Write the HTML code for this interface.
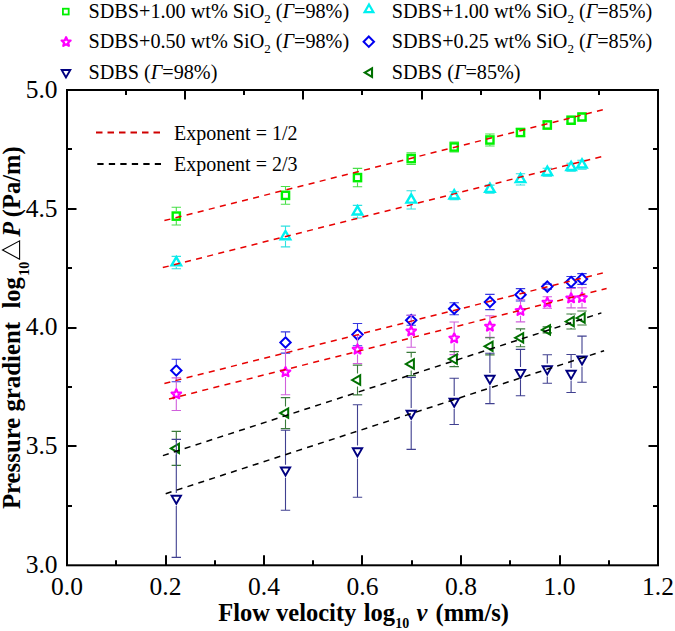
<!DOCTYPE html>
<html><head><meta charset="utf-8"><style>html,body{margin:0;padding:0;background:#fff;}svg{display:block;}</style></head>
<body>
<svg width="675" height="631" viewBox="0 0 675 631">
<rect width="100%" height="100%" fill="#fff"/>
<path d="M176.30 207.20V211.10M176.30 221.10V225.00M171.60 207.20H181.00M171.60 225.00H181.00M285.50 186.45V190.35M285.50 200.35V204.25M280.80 186.45H290.20M280.80 204.25H290.20M357.50 168.40V172.60M357.50 182.60V186.80M352.80 168.40H362.20M352.80 186.80H362.20M411.20 152.85V153.65M411.20 163.65V164.45M406.50 152.85H415.90M406.50 164.45H415.90M449.50 142.00H458.90M449.50 152.00H458.90M489.90 134.00V135.00M489.90 145.00V146.00M485.20 134.00H494.60M485.20 146.00H494.60M515.80 128.50H525.20M515.80 136.50H525.20M542.60 121.00H552.00M542.60 129.00H552.00M566.40 117.20H575.80M566.40 123.20H575.80M577.30 114.00H586.70M577.30 120.00H586.70" stroke="#48e048" stroke-width="1.1" fill="none"/>
<rect x="172.70" y="212.50" width="7.20" height="7.20" fill="none" stroke="#00f000" stroke-width="2.4"/>
<rect x="281.90" y="191.75" width="7.20" height="7.20" fill="none" stroke="#00f000" stroke-width="2.4"/>
<rect x="353.90" y="174.00" width="7.20" height="7.20" fill="none" stroke="#00f000" stroke-width="2.4"/>
<rect x="407.60" y="155.05" width="7.20" height="7.20" fill="none" stroke="#00f000" stroke-width="2.4"/>
<rect x="450.60" y="143.40" width="7.20" height="7.20" fill="none" stroke="#00f000" stroke-width="2.4"/>
<rect x="486.30" y="136.40" width="7.20" height="7.20" fill="none" stroke="#00f000" stroke-width="2.4"/>
<rect x="516.90" y="128.90" width="7.20" height="7.20" fill="none" stroke="#00f000" stroke-width="2.4"/>
<rect x="543.70" y="121.40" width="7.20" height="7.20" fill="none" stroke="#00f000" stroke-width="2.4"/>
<rect x="567.50" y="116.60" width="7.20" height="7.20" fill="none" stroke="#00f000" stroke-width="2.4"/>
<rect x="578.40" y="113.40" width="7.20" height="7.20" fill="none" stroke="#00f000" stroke-width="2.4"/>
<path d="M176.30 267.10V268.80M171.60 256.40H181.00M171.60 268.80H181.00M285.50 226.10V229.00M285.50 241.00V246.90M280.80 226.10H290.20M280.80 246.90H290.20M357.50 216.20V218.00M352.80 205.40H362.20M352.80 218.00H362.20M411.20 190.80V192.40M411.20 204.40V209.00M406.50 190.80H415.90M406.50 209.00H415.90M449.50 191.70H458.90M449.50 199.70H458.90M485.20 185.10H494.60M485.20 193.10H494.60M520.50 183.90V185.00M515.80 173.80H525.20M515.80 185.00H525.20M542.60 168.20H552.00M542.60 176.20H552.00M566.40 163.30H575.80M566.40 171.30H575.80M577.30 160.30H586.70M577.30 169.30H586.70" stroke="#30e0e0" stroke-width="1.1" fill="none"/>
<polygon points="176.30,257.10 181.06,265.35 171.54,265.35" fill="none" stroke="#00f0f0" stroke-width="2.4"/>
<polygon points="285.50,231.00 290.26,239.25 280.74,239.25" fill="none" stroke="#00f0f0" stroke-width="2.4"/>
<polygon points="357.50,206.20 362.26,214.45 352.74,214.45" fill="none" stroke="#00f0f0" stroke-width="2.4"/>
<polygon points="411.20,194.40 415.96,202.65 406.44,202.65" fill="none" stroke="#00f0f0" stroke-width="2.4"/>
<polygon points="454.20,190.20 458.96,198.45 449.44,198.45" fill="none" stroke="#00f0f0" stroke-width="2.4"/>
<polygon points="489.90,183.60 494.66,191.85 485.14,191.85" fill="none" stroke="#00f0f0" stroke-width="2.4"/>
<polygon points="520.50,173.90 525.26,182.15 515.74,182.15" fill="none" stroke="#00f0f0" stroke-width="2.4"/>
<polygon points="547.30,166.70 552.06,174.95 542.54,174.95" fill="none" stroke="#00f0f0" stroke-width="2.4"/>
<polygon points="571.10,161.80 575.86,170.05 566.34,170.05" fill="none" stroke="#00f0f0" stroke-width="2.4"/>
<polygon points="582.00,159.30 586.76,167.55 577.24,167.55" fill="none" stroke="#00f0f0" stroke-width="2.4"/>
<path d="M176.30 359.30V364.00M176.30 377.00V381.70M171.60 359.30H181.00M171.60 381.70H181.00M285.50 331.90V336.00M285.50 349.00V353.10M280.80 331.90H290.20M280.80 353.10H290.20M357.50 323.50V328.10M357.50 341.10V345.70M352.80 323.50H362.20M352.80 345.70H362.20M406.50 315.20H415.90M406.50 325.20H415.90M449.50 302.70H458.90M449.50 314.70H458.90M489.90 294.40V295.50M489.90 308.50V309.60M485.20 294.40H494.60M485.20 309.60H494.60M515.80 288.60H525.20M515.80 301.00H525.20M542.60 284.10H552.00M542.60 289.10H552.00M566.40 276.50H575.80M566.40 287.50H575.80M577.30 273.60H586.70M577.30 284.40H586.70" stroke="#3838e0" stroke-width="1.1" fill="none"/>
<path d="M176.30 365.30L181.50 370.50L176.30 375.70L171.10 370.50Z" fill="none" stroke="#0000f0" stroke-width="2.0"/>
<path d="M285.50 337.30L290.70 342.50L285.50 347.70L280.30 342.50Z" fill="none" stroke="#0000f0" stroke-width="2.0"/>
<path d="M357.50 329.40L362.70 334.60L357.50 339.80L352.30 334.60Z" fill="none" stroke="#0000f0" stroke-width="2.0"/>
<path d="M411.20 315.00L416.40 320.20L411.20 325.40L406.00 320.20Z" fill="none" stroke="#0000f0" stroke-width="2.0"/>
<path d="M454.20 303.50L459.40 308.70L454.20 313.90L449.00 308.70Z" fill="none" stroke="#0000f0" stroke-width="2.0"/>
<path d="M489.90 296.80L495.10 302.00L489.90 307.20L484.70 302.00Z" fill="none" stroke="#0000f0" stroke-width="2.0"/>
<path d="M520.50 289.60L525.70 294.80L520.50 300.00L515.30 294.80Z" fill="none" stroke="#0000f0" stroke-width="2.0"/>
<path d="M547.30 281.40L552.50 286.60L547.30 291.80L542.10 286.60Z" fill="none" stroke="#0000f0" stroke-width="2.0"/>
<path d="M571.10 276.80L576.30 282.00L571.10 287.20L565.90 282.00Z" fill="none" stroke="#0000f0" stroke-width="2.0"/>
<path d="M582.00 273.80L587.20 279.00L582.00 284.20L576.80 279.00Z" fill="none" stroke="#0000f0" stroke-width="2.0"/>
<path d="M176.30 377.90V388.20M176.30 399.20V410.50M171.60 377.90H181.00M171.60 410.50H181.00M285.50 349.50V366.10M285.50 377.10V394.70M280.80 349.50H290.20M280.80 394.70H290.20M357.50 335.50V343.50M357.50 354.50V363.50M352.80 335.50H362.20M352.80 363.50H362.20M411.20 315.20V325.20M411.20 336.20V347.20M406.50 315.20H415.90M406.50 347.20H415.90M454.20 322.00V332.30M454.20 343.30V354.60M449.50 322.00H458.90M449.50 354.60H458.90M489.90 315.80V320.50M489.90 331.50V337.20M485.20 315.80H494.60M485.20 337.20H494.60M520.50 299.70V304.80M520.50 315.80V321.90M515.80 299.70H525.20M515.80 321.90H525.20M547.30 307.50V308.20M542.60 296.80H552.00M542.60 308.20H552.00M571.10 288.50V292.20M571.10 303.20V307.90M566.40 288.50H575.80M566.40 307.90H575.80M582.00 287.70V291.80M582.00 302.80V307.90M577.30 287.70H586.70M577.30 307.90H586.70" stroke="#d060dc" stroke-width="1.1" fill="none"/>
<polygon points="176.30,389.20 177.65,392.34 181.06,392.65 178.49,394.91 179.24,398.25 176.30,396.50 173.36,398.25 174.11,394.91 171.54,392.65 174.95,392.34" fill="none" stroke="#ff00ff" stroke-width="2.2" stroke-linejoin="round"/>
<polygon points="285.50,367.10 286.85,370.24 290.26,370.55 287.69,372.81 288.44,376.15 285.50,374.40 282.56,376.15 283.31,372.81 280.74,370.55 284.15,370.24" fill="none" stroke="#ff00ff" stroke-width="2.2" stroke-linejoin="round"/>
<polygon points="357.50,344.50 358.85,347.64 362.26,347.95 359.69,350.21 360.44,353.55 357.50,351.80 354.56,353.55 355.31,350.21 352.74,347.95 356.15,347.64" fill="none" stroke="#ff00ff" stroke-width="2.2" stroke-linejoin="round"/>
<polygon points="411.20,326.20 412.55,329.34 415.96,329.65 413.39,331.91 414.14,335.25 411.20,333.50 408.26,335.25 409.01,331.91 406.44,329.65 409.85,329.34" fill="none" stroke="#ff00ff" stroke-width="2.2" stroke-linejoin="round"/>
<polygon points="454.20,333.30 455.55,336.44 458.96,336.75 456.39,339.01 457.14,342.35 454.20,340.60 451.26,342.35 452.01,339.01 449.44,336.75 452.85,336.44" fill="none" stroke="#ff00ff" stroke-width="2.2" stroke-linejoin="round"/>
<polygon points="489.90,321.50 491.25,324.64 494.66,324.95 492.09,327.21 492.84,330.55 489.90,328.80 486.96,330.55 487.71,327.21 485.14,324.95 488.55,324.64" fill="none" stroke="#ff00ff" stroke-width="2.2" stroke-linejoin="round"/>
<polygon points="520.50,305.80 521.85,308.94 525.26,309.25 522.69,311.51 523.44,314.85 520.50,313.10 517.56,314.85 518.31,311.51 515.74,309.25 519.15,308.94" fill="none" stroke="#ff00ff" stroke-width="2.2" stroke-linejoin="round"/>
<polygon points="547.30,297.50 548.65,300.64 552.06,300.95 549.49,303.21 550.24,306.55 547.30,304.80 544.36,306.55 545.11,303.21 542.54,300.95 545.95,300.64" fill="none" stroke="#ff00ff" stroke-width="2.2" stroke-linejoin="round"/>
<polygon points="571.10,293.20 572.45,296.34 575.86,296.65 573.29,298.91 574.04,302.25 571.10,300.50 568.16,302.25 568.91,298.91 566.34,296.65 569.75,296.34" fill="none" stroke="#ff00ff" stroke-width="2.2" stroke-linejoin="round"/>
<polygon points="582.00,292.80 583.35,295.94 586.76,296.25 584.19,298.51 584.94,301.85 582.00,300.10 579.06,301.85 579.81,298.51 577.24,296.25 580.65,295.94" fill="none" stroke="#ff00ff" stroke-width="2.2" stroke-linejoin="round"/>
<path d="M176.30 431.40V441.90M176.30 454.90V465.40M171.60 431.40H181.00M171.60 465.40H181.00M285.50 397.60V406.60M285.50 419.60V428.60M280.80 397.60H290.20M280.80 428.60H290.20M357.50 365.10V373.50M357.50 386.50V394.90M352.80 365.10H362.20M352.80 394.90H362.20M411.20 352.40V357.50M411.20 370.50V375.60M406.50 352.40H415.90M406.50 375.60H415.90M454.20 351.60V352.60M454.20 365.60V366.60M449.50 351.60H458.90M449.50 366.60H458.90M489.90 337.70V339.80M489.90 352.80V354.90M485.20 337.70H494.60M485.20 354.90H494.60M520.50 328.90V331.30M520.50 344.30V346.70M515.80 328.90H525.20M515.80 346.70H525.20M542.60 326.90H552.00M542.60 332.90H552.00M571.10 314.00V315.00M571.10 328.00V329.00M566.40 314.00H575.80M566.40 329.00H575.80M582.00 311.00V311.50M582.00 324.50V325.00M577.30 311.00H586.70M577.30 325.00H586.70" stroke="#3a7a3a" stroke-width="1.1" fill="none"/>
<polygon points="170.90,448.40 179.00,443.72 179.00,453.08" fill="none" stroke="#007000" stroke-width="2.0"/>
<polygon points="280.10,413.10 288.20,408.42 288.20,417.78" fill="none" stroke="#007000" stroke-width="2.0"/>
<polygon points="352.10,380.00 360.20,375.32 360.20,384.68" fill="none" stroke="#007000" stroke-width="2.0"/>
<polygon points="405.80,364.00 413.90,359.32 413.90,368.68" fill="none" stroke="#007000" stroke-width="2.0"/>
<polygon points="448.80,359.10 456.90,354.42 456.90,363.78" fill="none" stroke="#007000" stroke-width="2.0"/>
<polygon points="484.50,346.30 492.60,341.62 492.60,350.98" fill="none" stroke="#007000" stroke-width="2.0"/>
<polygon points="515.10,337.80 523.20,333.12 523.20,342.48" fill="none" stroke="#007000" stroke-width="2.0"/>
<polygon points="541.90,329.90 550.00,325.22 550.00,334.58" fill="none" stroke="#007000" stroke-width="2.0"/>
<polygon points="565.70,321.50 573.80,316.82 573.80,326.18" fill="none" stroke="#007000" stroke-width="2.0"/>
<polygon points="576.60,318.00 584.70,313.32 584.70,322.68" fill="none" stroke="#007000" stroke-width="2.0"/>
<path d="M176.30 439.40V492.90M176.30 505.90V557.40M171.60 439.40H181.00M171.60 557.40H181.00M285.50 430.20V464.70M285.50 477.70V510.20M280.80 430.20H290.20M280.80 510.20H290.20M357.50 404.70V445.50M357.50 458.50V497.30M352.80 404.70H362.20M352.80 497.30H362.20M411.20 377.40V407.90M411.20 420.90V449.40M406.50 377.40H415.90M406.50 449.40H415.90M454.20 378.30V395.90M454.20 408.90V424.50M449.50 378.30H458.90M449.50 424.50H458.90M489.90 353.20V372.90M489.90 385.90V403.60M485.20 353.20H494.60M485.20 403.60H494.60M520.50 349.40V367.10M520.50 380.10V395.80M515.80 349.40H525.20M515.80 395.80H525.20M547.30 354.80V363.50M547.30 376.50V383.20M542.60 354.80H552.00M542.60 383.20H552.00M571.10 354.50V368.00M571.10 381.00V392.50M566.40 354.50H575.80M566.40 392.50H575.80M582.00 336.10V353.70M582.00 366.70V382.30M577.30 336.10H586.70M577.30 382.30H586.70" stroke="#404090" stroke-width="1.1" fill="none"/>
<polygon points="176.30,503.80 171.62,495.70 180.98,495.70" fill="none" stroke="#000080" stroke-width="1.9"/>
<polygon points="285.50,475.60 280.82,467.50 290.18,467.50" fill="none" stroke="#000080" stroke-width="1.9"/>
<polygon points="357.50,456.40 352.82,448.30 362.18,448.30" fill="none" stroke="#000080" stroke-width="1.9"/>
<polygon points="411.20,418.80 406.52,410.70 415.88,410.70" fill="none" stroke="#000080" stroke-width="1.9"/>
<polygon points="454.20,406.80 449.52,398.70 458.88,398.70" fill="none" stroke="#000080" stroke-width="1.9"/>
<polygon points="489.90,383.80 485.22,375.70 494.58,375.70" fill="none" stroke="#000080" stroke-width="1.9"/>
<polygon points="520.50,378.00 515.82,369.90 525.18,369.90" fill="none" stroke="#000080" stroke-width="1.9"/>
<polygon points="547.30,374.40 542.62,366.30 551.98,366.30" fill="none" stroke="#000080" stroke-width="1.9"/>
<polygon points="571.10,378.90 566.42,370.80 575.78,370.80" fill="none" stroke="#000080" stroke-width="1.9"/>
<polygon points="582.00,364.60 577.32,356.50 586.68,356.50" fill="none" stroke="#000080" stroke-width="1.9"/>
<line x1="164.4" y1="220.6" x2="602.8" y2="109.8" stroke="#e80000" stroke-width="1.5" stroke-dasharray="6.1 5.34"/>
<line x1="162.8" y1="267.6" x2="601.5" y2="156.6" stroke="#e80000" stroke-width="1.5" stroke-dasharray="6.1 5.34"/>
<line x1="164.4" y1="383.4" x2="602.8" y2="272.9" stroke="#e80000" stroke-width="1.5" stroke-dasharray="6.1 5.34"/>
<line x1="169.0" y1="399.0" x2="606.6" y2="288.5" stroke="#e80000" stroke-width="1.5" stroke-dasharray="6.1 5.34"/>
<line x1="162.9" y1="455.6" x2="601.4" y2="312.9" stroke="#000000" stroke-width="1.5" stroke-dasharray="6.1 5.34"/>
<line x1="165.7" y1="493.7" x2="604.1" y2="350.7" stroke="#000000" stroke-width="1.5" stroke-dasharray="6.1 5.34"/>
<rect x="67.0" y="90.0" width="591.0" height="475.29999999999995" fill="none" stroke="#000" stroke-width="2"/>
<path d="M116 565.3V560.3M166 565.3V555.3M215 565.3V560.3M264 565.3V555.3M313 565.3V560.3M362 565.3V555.3M412 565.3V560.3M461 565.3V555.3M510 565.3V560.3M560 565.3V555.3M609 565.3V560.3M126 90.0V95.0M185 90.0V99.5M244 90.0V95.0M303 90.0V99.5M362 90.0V95.0M422 90.0V99.5M481 90.0V95.0M540 90.0V99.5M599 90.0V95.0M67.0 149H72.0M658.0 149H653.0M67.0 209H76.5M658.0 209H648.5M67.0 268H72.0M658.0 268H653.0M67.0 328H76.5M658.0 328H648.5M67.0 387H72.0M658.0 387H653.0M67.0 446H76.5M658.0 446H648.5M67.0 506H72.0M658.0 506H653.0" stroke="#000" stroke-width="2" fill="none"/>
<text x="67.00" y="595" font-family="Liberation Serif, serif" font-size="25.5" text-anchor="middle">0.0</text>
<text x="165.50" y="595" font-family="Liberation Serif, serif" font-size="25.5" text-anchor="middle">0.2</text>
<text x="264.00" y="595" font-family="Liberation Serif, serif" font-size="25.5" text-anchor="middle">0.4</text>
<text x="362.50" y="595" font-family="Liberation Serif, serif" font-size="25.5" text-anchor="middle">0.6</text>
<text x="461.00" y="595" font-family="Liberation Serif, serif" font-size="25.5" text-anchor="middle">0.8</text>
<text x="559.50" y="595" font-family="Liberation Serif, serif" font-size="25.5" text-anchor="middle">1.0</text>
<text x="658.00" y="595" font-family="Liberation Serif, serif" font-size="25.5" text-anchor="middle">1.2</text>
<text x="57.6" y="573.10" font-family="Liberation Serif, serif" font-size="25.5" text-anchor="end">3.0</text>
<text x="57.6" y="454.27" font-family="Liberation Serif, serif" font-size="25.5" text-anchor="end">3.5</text>
<text x="57.6" y="335.45" font-family="Liberation Serif, serif" font-size="25.5" text-anchor="end">4.0</text>
<text x="57.6" y="216.62" font-family="Liberation Serif, serif" font-size="25.5" text-anchor="end">4.5</text>
<text x="57.6" y="97.80" font-family="Liberation Serif, serif" font-size="25.5" text-anchor="end">5.0</text>
<line x1="96" y1="132.5" x2="160" y2="132.5" stroke="#d00000" stroke-width="1.8" stroke-dasharray="6.5 5"/>
<line x1="97.3" y1="164" x2="161" y2="164" stroke="#000" stroke-width="1.9" stroke-dasharray="6.3 5.2"/>
<text x="174" y="139.8" font-family="Liberation Serif, serif" font-size="20">Exponent = 1/2</text>
<text x="174" y="170.6" font-family="Liberation Serif, serif" font-size="20">Exponent = 2/3</text>
<rect x="62.92" y="8.72" width="5.76" height="5.76" fill="none" stroke="#00f000" stroke-width="1.8"/><text x="88.5" y="17.5" font-family="Liberation Serif, serif" font-size="20.2">SDBS+1.00 wt% SiO<tspan font-size="13" dy="5">2</tspan><tspan dy="-5"> (</tspan><tspan font-style="italic">Γ</tspan>=<tspan>98%)</tspan></text>
<polygon points="66.10,37.25 67.38,40.23 70.62,40.53 68.18,42.68 68.89,45.84 66.10,44.19 63.31,45.84 64.02,42.68 61.58,40.53 64.82,40.23" fill="none" stroke="#ff00ff" stroke-width="2.2" stroke-linejoin="round"/><text x="88.5" y="48.0" font-family="Liberation Serif, serif" font-size="20.2">SDBS+0.50 wt% SiO<tspan font-size="13" dy="5">2</tspan><tspan dy="-5"> (</tspan><tspan font-style="italic">Γ</tspan>=<tspan>98%)</tspan></text>
<polygon points="66.00,77.47 61.70,70.02 70.30,70.02" fill="none" stroke="#000080" stroke-width="1.9"/><text x="88.5" y="78.5" font-family="Liberation Serif, serif" font-size="20.2">SDBS (<tspan font-style="italic">Γ</tspan>=98%)</text>
<polygon points="369.00,4.54 373.38,12.13 364.62,12.13" fill="none" stroke="#00f0f0" stroke-width="2.2"/><text x="391.7" y="17.5" font-family="Liberation Serif, serif" font-size="20.2">SDBS+1.00 wt% SiO<tspan font-size="13" dy="5">2</tspan><tspan dy="-5"> (</tspan><tspan font-style="italic">Γ</tspan>=<tspan>85%)</tspan></text>
<path d="M368.80 36.50L374.00 41.70L368.80 46.90L363.60 41.70Z" fill="none" stroke="#0000f0" stroke-width="2.0"/><text x="391.7" y="48.0" font-family="Liberation Serif, serif" font-size="20.2">SDBS+0.25 wt% SiO<tspan font-size="13" dy="5">2</tspan><tspan dy="-5"> (</tspan><tspan font-style="italic">Γ</tspan>=<tspan>85%)</tspan></text>
<polygon points="364.74,72.60 372.03,68.39 372.03,76.81" fill="none" stroke="#007000" stroke-width="2.1"/><text x="391.7" y="78.5" font-family="Liberation Serif, serif" font-size="20.2">SDBS (<tspan font-style="italic">Γ</tspan>=85%)</text>
<text x="218.2" y="620.6" font-family="Liberation Serif, serif" font-weight="bold" font-size="24.5">Flow velocity</text>
<text x="363.8" y="620.6" font-family="Liberation Serif, serif" font-weight="bold" font-size="24.5">log</text>
<text x="395.3" y="627.6" font-family="Liberation Serif, serif" font-weight="bold" font-size="14">10</text>
<text x="416.5" y="620.6" font-family="Liberation Serif, serif" font-weight="bold" font-size="24.5" font-style="italic">v</text>
<text x="435.5" y="620.6" font-family="Liberation Serif, serif" font-weight="bold" font-size="24.5">(mm/s)</text>
<g transform="translate(19.9,631) rotate(-90)">
<text x="121.9" y="0" font-family="Liberation Serif, serif" font-weight="bold" font-size="24.8">Pressure gradient</text>
<text x="322.4" y="0" font-family="Liberation Serif, serif" font-weight="bold" font-size="24.5">log</text>
<text x="355.3" y="9.2" font-family="Liberation Serif, serif" font-weight="bold" font-size="14">10</text>
<path d="M371.8 -0.3L381 -17.4L390.2 -0.3Z" fill="none" stroke="#000" stroke-width="1.1"/>
<text x="394.2" y="0" font-family="Liberation Serif, serif" font-weight="bold" font-size="24.5" font-style="italic">P</text>
<text x="413.8" y="0" font-family="Liberation Serif, serif" font-weight="bold" font-size="24.5">(Pa/m)</text>
</g>
</svg>
</body></html>
